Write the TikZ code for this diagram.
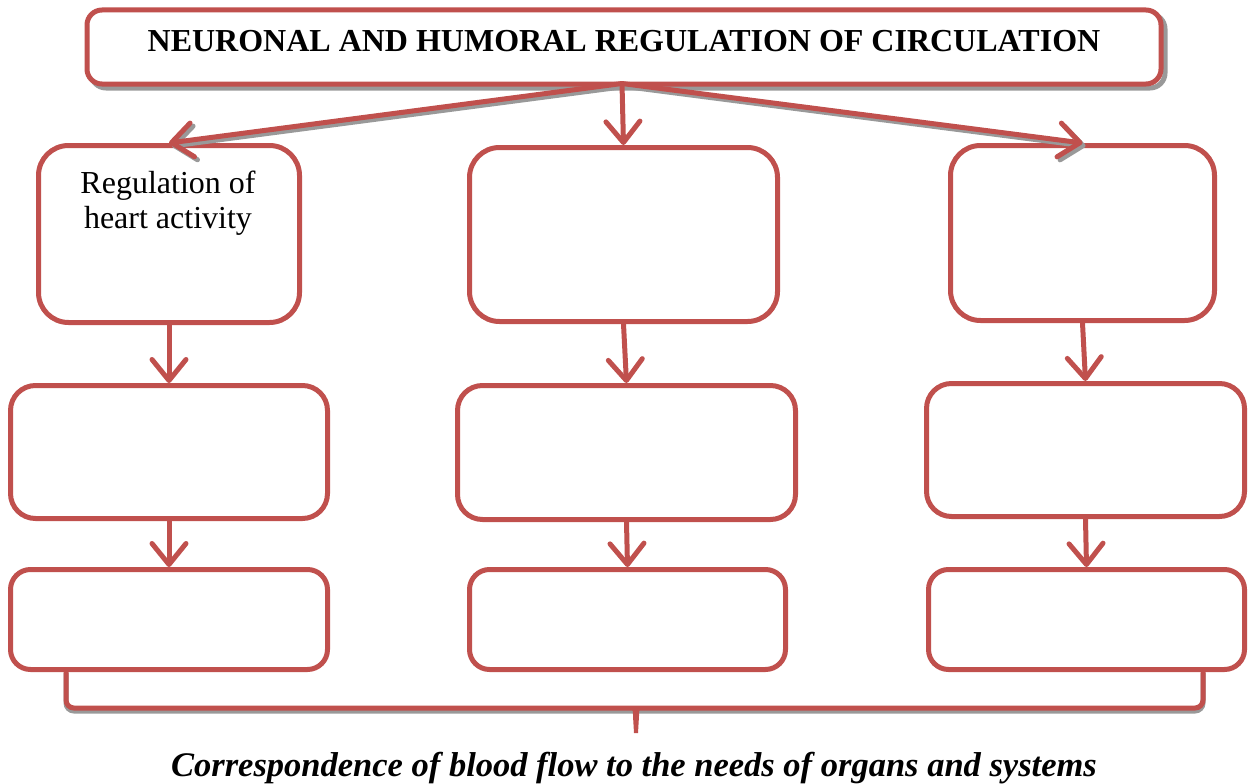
\documentclass[tikz,border=0pt]{standalone}
\usepackage{fontspec}
\setmainfont{Liberation Serif}
\usetikzlibrary{arrows.meta,calc}
\definecolor{boxred}{HTML}{C0504D}
\definecolor{shadowgray}{gray}{0.6}

\begin{document}
\begin{tikzpicture}[x=1pt,y=-1pt,
  box/.style={draw=boxred, line width=5pt, fill=white, rounded corners=25pt, inner sep=0pt},
  flow/.style={draw=boxred, line width=5pt, line cap=round,
    -{Straight Barb[length=21pt,width=34pt,round]}},
  flowshadow/.style={draw=shadowgray, line width=5pt, line cap=round,
    -{Straight Barb[length=21pt,width=34pt,round]}},
  outlineshadow/.style={draw=shadowgray, line width=5pt},
  titlefont/.style={font=\fontsize{32}{35}\selectfont\bfseries},
  bodyfont/.style={font=\fontsize{32}{35}\selectfont},
  capfont/.style={font=\fontsize{34.5}{38}\selectfont\bfseries\itshape},
]
\useasboundingbox (0,0) rectangle (1250,784);

% shadow of the heading box
\draw[outlineshadow, rounded corners=15pt] (91,14) rectangle (1165,88);
% heading box
\node[box, rounded corners=15pt, minimum width=1074pt, minimum height=74pt] (title) at (624,47) {};
\node[titlefont, anchor=base, inner sep=0pt] (titletext) at (624,52)
  {NEURONAL AND HUMORAL REGULATION OF CIRCULATION};

% first row
\node[box, rounded corners=30pt, minimum width=261pt, minimum height=177pt] (r1l) at (169,234) {};
\node[box, rounded corners=30pt, minimum width=308pt, minimum height=174pt] (r1m) at (623.5,234.5) {};
\node[box, rounded corners=30pt, minimum width=264pt, minimum height=175pt] (r1r) at (1082.5,233) {};
\node[bodyfont, align=center, anchor=north, inner sep=0pt] (r1ltext) at (168,171)
  {Regulation of\\heart activity};

% second row
\node[box, minimum width=317pt, minimum height=133pt] (r2l) at (169,452) {};
\node[box, minimum width=338pt, minimum height=134pt] (r2m) at (626.5,452.5) {};
\node[box, minimum width=318pt, minimum height=133pt] (r2r) at (1085.5,450) {};

% third row
\node[box, rounded corners=20pt, minimum width=317pt, minimum height=100pt] (r3l) at (169,619.5) {};
\node[box, rounded corners=20pt, minimum width=316pt, minimum height=100pt] (r3m) at (627.5,619.5) {};
\node[box, rounded corners=20pt, minimum width=316pt, minimum height=100pt] (r3r) at (1086.5,619.5) {};

% arrows from the heading, with their shadows
\coordinate (hub) at ($(title.south)+(-2,-3)$);
\draw[flowshadow] ([shift={(3,3)}]hub) -- ([shift={(3,3)}]r1l.north);
\draw[flowshadow] ([shift={(3,3)}]hub) -- ([shift={(3,3)}]r1r.north);
\draw[flow] (hub) -- (r1l.north);
\draw[flow] (hub) -- (r1m.north);
\draw[flow] (hub) -- (r1r.north);

% arrows down the columns
\draw[flow] (r1l.south) -- (r2l.north);
\draw[flow] (r1m.south) -- (r2m.north);
\draw[flow] (r1r.south) -- (r2r.north);
\draw[flow] (r2l.south) -- (r3l.north);
\draw[flow] (r2m.south) -- (r3m.north);
\draw[flow] (r2r.south) -- (r3r.north);

% brace under the bottom row
\coordinate (bl) at (66,670);
\coordinate (br) at (1203,670);
\coordinate (tick) at (636,708);
\draw[outlineshadow, rounded corners=8pt]
  ([shift={(0,3)}]bl) -- ([shift={(0,3)}]bl |- tick) -- ([shift={(0,3)}]br |- tick) -- ([shift={(0,3)}]br);
\draw[boxred, line width=5pt, rounded corners=8pt]
  (bl) -- (bl |- tick) -- (br |- tick) -- (br);
\fill[boxred] ([shift={(-9,0)}]tick) .. controls ([shift={(-3,1)}]tick) .. ([shift={(-3,8)}]tick)
  -- ([shift={(-2,25)}]tick) -- ([shift={(2,25)}]tick) -- ([shift={(3,8)}]tick)
  .. controls ([shift={(3,1)}]tick) .. ([shift={(9,0)}]tick) -- cycle;

% closing statement
\node[capfont, anchor=base, inner sep=0pt] (caption) at (634,776)
  {Correspondence of blood flow to the needs of organs and systems};
\end{tikzpicture}
\end{document}
